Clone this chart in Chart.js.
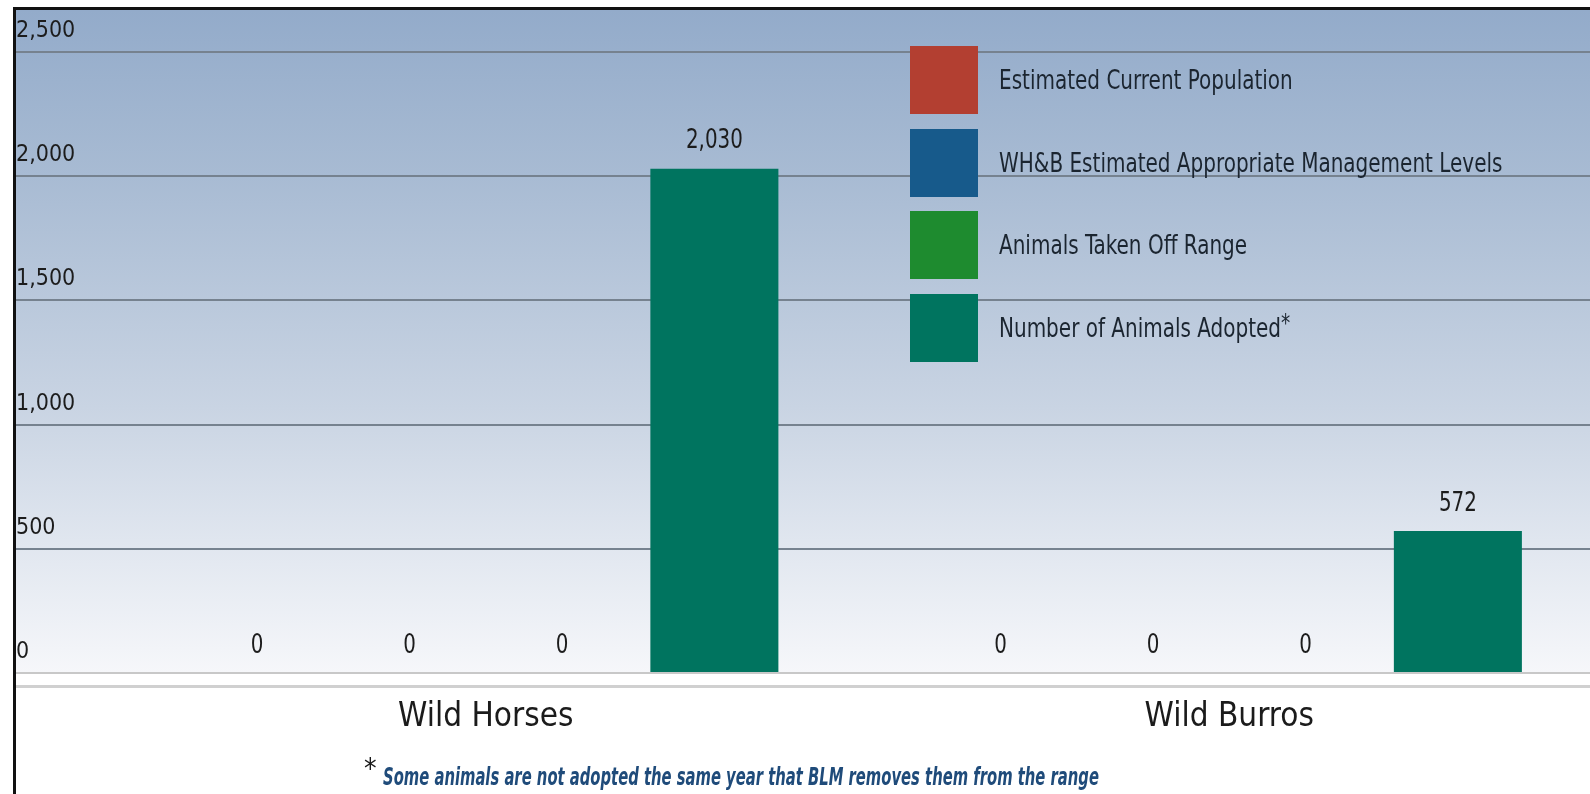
<!DOCTYPE html>
<html>
<head>
<meta charset="utf-8">
<title>Wild Horses and Burros</title>
<script src="https://cdn.jsdelivr.net/npm/chart.js@4.4.1/dist/chart.umd.min.js"></script>
<style>
  html, body { margin: 0; padding: 0; background: #fff; overflow: hidden; }
  #wrap { position: relative; width: 1601px; height: 794px; }
  #legend { position: absolute; left: 910px; top: 46px; }
  .lg-row { display: flex; align-items: center; height: 68px; margin-bottom: 14.7px; }
  .lg-box { width: 68px; height: 68px; margin-right: 21px; flex: none; }
  .lg-text { font: 26px "DejaVu Sans Condensed", sans-serif; color: #1b2530; white-space: nowrap;
             transform: scaleX(0.855); transform-origin: left center; }
  .lg-text sup { font-size: 24px; position: relative; top: -4px; vertical-align: top; }
  #note { position: absolute; left: 364px; top: 759px; white-space: nowrap; line-height: 30px; }
  #note .mark { font: 28px "DejaVu Sans Condensed", sans-serif; color: #1a1a1a; position: relative; top: -7px; margin-right: 6px; }
  #note .txt { display: inline-block; font: bold italic 24px "DejaVu Sans Condensed", sans-serif; color: #1f4b7a;
               transform: scaleX(0.685); transform-origin: left center; }
</style>
</head>
<body>
<div id="wrap">
  <canvas id="chart" width="1601" height="794"></canvas>
  <div id="legend"></div>
  <div id="note"><span class="mark">*</span><span class="txt">Some animals are not adopted the same year that BLM removes them from the range</span></div>
</div>
<script>
"use strict";

// ---- data ----
const categories = ["Wild Horses", "Wild Burros"];
const seriesNames = [
  "Estimated Current Population",
  "WH&B Estimated Appropriate Management Levels",
  "Animals Taken Off Range",
  "Number of Animals Adopted*"
];
const currentPopulation = [0, 0];
const managementLevels = [0, 0];
const takenOffRange = [0, 0];
const animalsAdopted = [2030, 572];
const yTicks = [0, 500, 1000, 1500, 2000, 2500];

const seriesColors = ["#b33f31", "#175a8b", "#1e8b2f", "#00745f"];
const FONT = '"DejaVu Sans Condensed", sans-serif';

/* background gradient, frame and the double rule under the baseline */
const backdrop = {
  id: "backdrop",
  beforeDraw(chart) {
    const { ctx, chartArea, width, height } = chart;
    ctx.save();
    const g = ctx.createLinearGradient(0, 10, 0, chartArea.bottom);
    g.addColorStop(0, "#93abca");
    g.addColorStop(0.25, "#a8bbd3");
    g.addColorStop(0.6, "#c9d4e3");
    g.addColorStop(0.8, "#e0e6ef");
    g.addColorStop(1, "#f6f7fa");
    ctx.fillStyle = g;
    ctx.fillRect(16, 10, width - 16, chartArea.bottom - 10);
    ctx.fillStyle = "#111";
    ctx.fillRect(13, 7, width - 13, 3);
    ctx.fillRect(13, 7, 3, height - 7);
    ctx.fillStyle = "#d0d0d0";
    ctx.fillRect(16, chartArea.bottom + 12, width - 16, 3);
    ctx.restore();
  }
};

/* value above every bar, zeros included (squeezed to look condensed) */
const valueLabels = {
  id: "valueLabels",
  afterDatasetsDraw(chart) {
    const ctx = chart.ctx;
    ctx.save();
    ctx.font = "26px " + FONT;
    ctx.fillStyle = "#1c1c1c";
    ctx.textAlign = "center";
    ctx.textBaseline = "middle";
    chart.data.datasets.forEach((ds, i) => {
      chart.getDatasetMeta(i).data.forEach((bar, j) => {
        ctx.save();
        ctx.translate(bar.x, bar.y - 27);
        ctx.scale(0.85, 1);
        ctx.fillText(ds.data[j].toLocaleString("en-US"), 0, 0);
        ctx.restore();
      });
    });
    ctx.restore();
  }
};

const seriesData = [currentPopulation, managementLevels, takenOffRange, animalsAdopted];

new Chart(document.getElementById("chart"), {
  type: "bar",
  data: {
    labels: categories,
    datasets: seriesData.map((d, i) => ({
      label: seriesNames[i].replace("*", ""),
      data: d,
      backgroundColor: seriesColors[i],
      borderWidth: 0,
      categoryPercentage: 0.82,
      barPercentage: 0.84
    }))
  },
  options: {
    responsive: false,
    animation: false,
    layout: { padding: { top: 52, left: 16, right: 0, bottom: 0 } },
    plugins: { legend: { display: false }, tooltip: { enabled: false } },
    scales: {
      x: {
        grid: { display: false, drawTicks: false },
        border: { display: false },
        ticks: { font: { family: FONT, size: 33 }, color: "#1b1b1b", padding: 25 },
        afterFit(scale) { scale.height = 121; }
      },
      y: {
        min: yTicks[0],
        max: yTicks[yTicks.length - 1],
        afterBuildTicks(scale) { scale.ticks = yTicks.map(v => ({ value: v })); },
        afterFit(scale) { scale.width = 98; },
        border: { display: false },
        grid: {
          color: c => (c.tick && c.tick.value === 0 ? "#c8c8c8" : "#76828f"),
          lineWidth: 2,
          drawTicks: true,
          tickLength: 98
        },
        ticks: {
          crossAlign: "far",
          labelOffset: -21,
          font: { family: FONT, size: 23 },
          color: "#1c1c1c",
          callback: v => v.toLocaleString("en-US")
        }
      }
    }
  },
  plugins: [backdrop, valueLabels]
});

// legend built from the series arrays
document.getElementById("legend").innerHTML = seriesNames.map((name, i) => `
  <div class="lg-row">
    <div class="lg-box" style="background:${seriesColors[i]}"></div>
    <div class="lg-text">${name.replace("&", "&amp;").replace("*", "<sup>*</sup>")}</div>
  </div>`).join("");
</script>
</body>
</html>
